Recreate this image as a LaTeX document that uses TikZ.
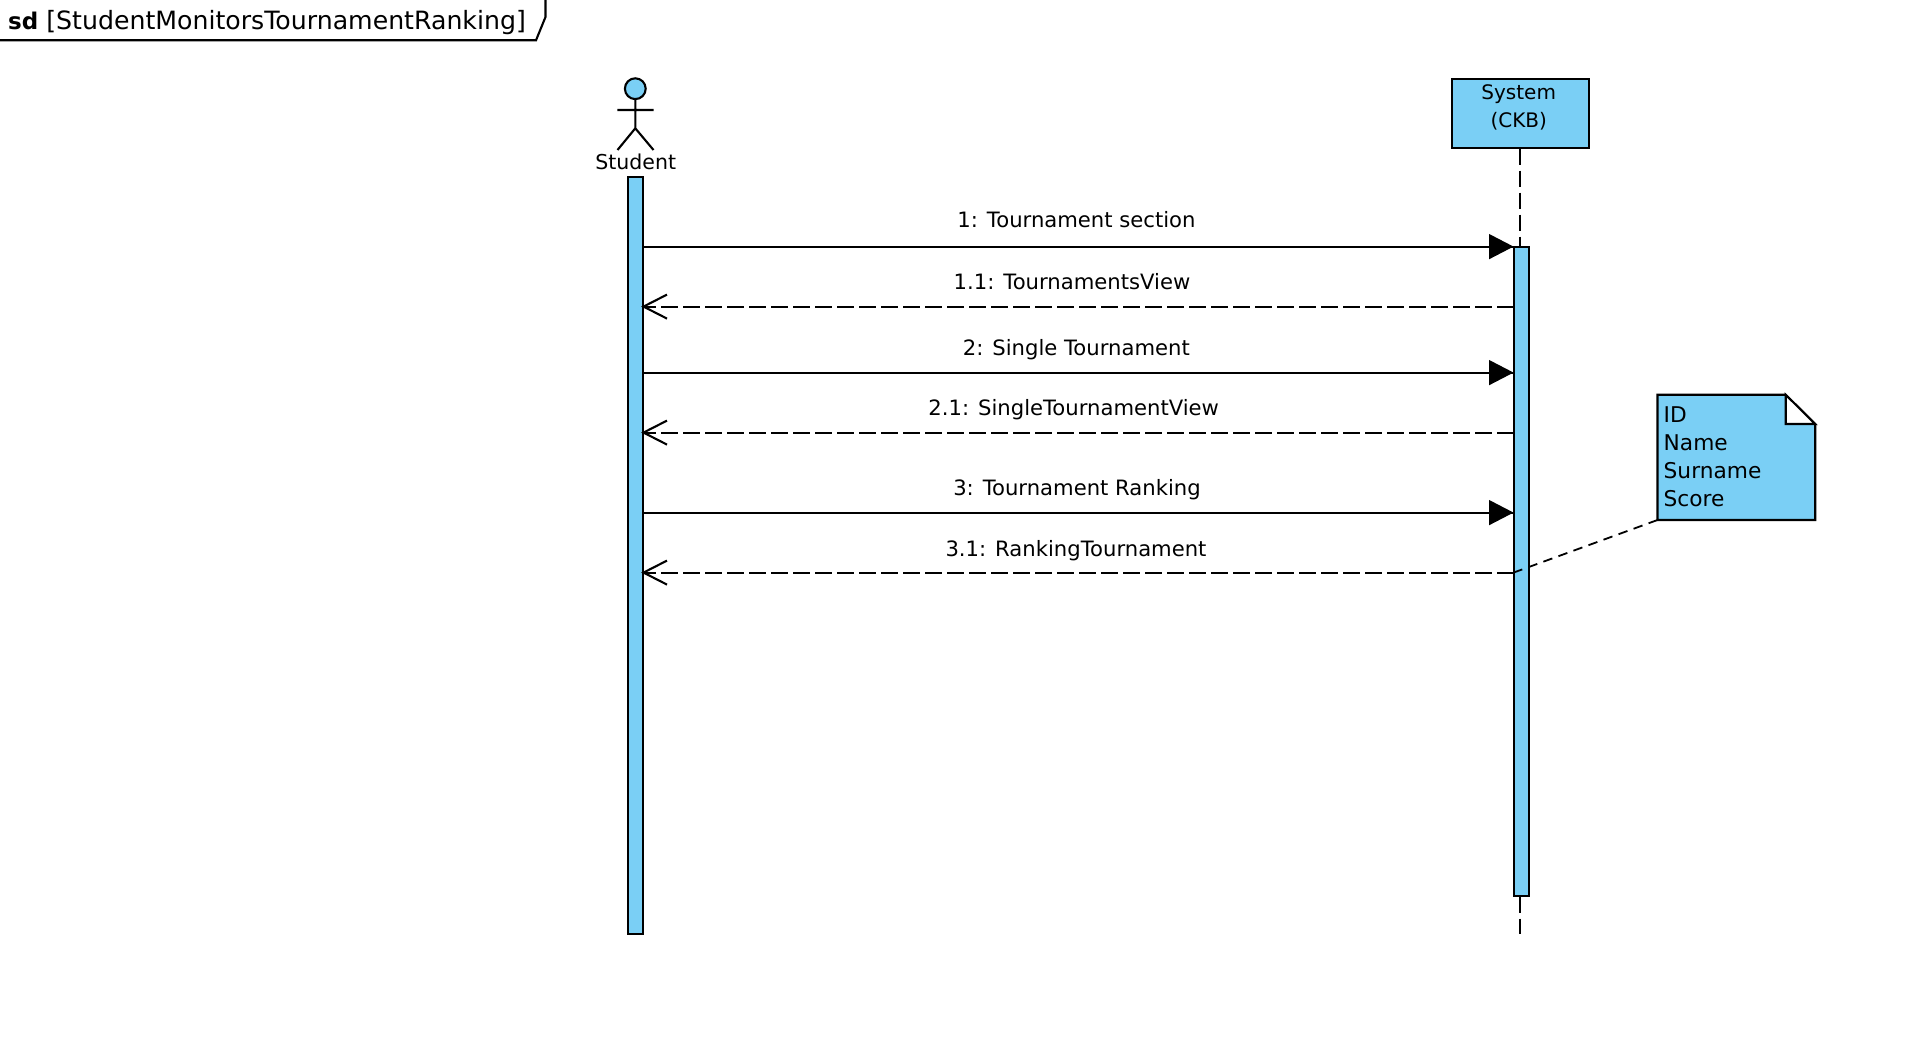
\documentclass[tikz,border=0pt]{standalone}
\usepackage{fontspec}
\setmainfont{DejaVu Sans}
\definecolor{umlblue}{HTML}{7ACFF5}
\tikzset{
  x=1pt,y=-1pt,
  stroke/.style={draw=black,line width=2.1pt},
  bar/.style={stroke,fill=umlblue},
  lifeline/.style={stroke,dash pattern=on 16pt off 6pt},
  reply/.style={stroke,dash pattern=on 16.5pt off 5.5pt},
  notelink/.style={draw=black,line width=1.8pt,dash pattern=on 9.5pt off 6.5pt},
  msgtxt/.style={inner sep=0pt,anchor=base,font=\fontsize{21.15}{24}\selectfont},
  boxtxt/.style={inner sep=0pt,anchor=base,font=\fontsize{20}{24}\selectfont},
  notetxt/.style={inner sep=0pt,anchor=base west,font=\fontsize{21.7}{24}\selectfont},
  pin/.style={inner sep=0pt,minimum size=0pt,outer sep=0pt},
}
\begin{document}
\begin{tikzpicture}
\useasboundingbox (0,0) rectangle (1923,1048);
% frame
\draw[stroke] (-2,40.3) -- (536,40.3) -- (545.5,17) -- (545.5,-2);
\node[inner sep=0pt,anchor=base west,font=\fontsize{25.2}{27}\selectfont] (frametitle) at (8,30) {{\fontsize{23}{27}\selectfont\textbf{sd}} [StudentMonitorsTournamentRanking]};
% actor
\node[stroke,fill=umlblue,circle,minimum size=20.8pt,inner sep=0pt] (head) at (635.3,88.7) {};
\coordinate (hip) at (635.3,128.3);
\coordinate (armL) at (617.4,110);
\coordinate (armR) at (653.6,110);
\coordinate (footL) at (617.5,150);
\coordinate (footR) at (653.5,150);
\draw[stroke] (head.south) -- (hip) -- (footL) (hip) -- (footR) (armL) -- (armR);
\node[boxtxt,font=\fontsize{20.5}{24}\selectfont] (student) at (635.7,170) {Student};
% system
\node[bar,pin,minimum width=137.5pt,minimum height=69pt] (system) at (1520.3,113.4) {};
\node[boxtxt] (systxt1) at (1518.7,100) {System};
\node[boxtxt] (systxt2) at (1518.7,128) {(CKB)};
% lifeline
\coordinate (lifeEnd) at (1519.6,934.3);
\coordinate (lifeTop) at (1519.6,148.7);
\draw[lifeline] (lifeTop) -- (lifeEnd);
% activations
\node[bar,pin,minimum width=15pt,minimum height=756.5pt] (barS) at (635.5,555.6) {};
\node[bar,pin,minimum width=15pt,minimum height=649.4pt] (barC) at (1521.7,571.5) {};
% anchors on the bars
\foreach \n/\y in {a/246.6,b/306.6,c/372.6,d/432.6,e/512.6,f/572.6}{
  \coordinate (l\n) at (643.5,\y);
  \coordinate (r\n) at (1513.5,\y);
}
% messages
\foreach \n in {a,c,e}{
  \draw[stroke] (l\n) -- (r\n);
  \fill[black] (r\n) -- ++(-24.5,-12.7) -- ++(0,25.4) -- cycle;
}
\foreach \n in {b,d,f}{
  \draw[reply] (r\n) -- (l\n);
  \draw[stroke] ([shift={(23.5,-12)}]l\n) -- (l\n) -- ([shift={(23.5,12)}]l\n);
}
\node[msgtxt] (m1) at (1076.5,228) {1: Tournament section};
\node[msgtxt] (m2) at (1072,290) {1.1: TournamentsView};
\node[msgtxt] (m3) at (1076.3,356) {2: Single Tournament};
\node[msgtxt] (m4) at (1073.7,416) {2.1: SingleTournamentView};
\node[msgtxt] (m5) at (1077,496) {3: Tournament Ranking};
\node[msgtxt] (m6) at (1076,556) {3.1: RankingTournament};
% note
\coordinate (nTL) at (1657.5,394.8);
\coordinate (nBL) at (1657.5,520);
\coordinate (nBR) at (1815.2,520);
\coordinate (nFR) at (1815.2,424);
\coordinate (nFT) at (1785.7,394.8);
\coordinate (nFC) at (1785.7,424);
\draw[stroke,fill=umlblue] (nTL) -- (nFT) -- (nFR) -- (nBR) -- (nBL) -- cycle;
\draw[stroke,fill=white] (nFT) -- (nFC) -- (nFR) -- cycle;
\node[notetxt] (n1) at (1663.5,422.3) {ID};
\node[notetxt] (n2) at (1663.5,450.3) {Name};
\node[notetxt] (n3) at (1663.5,478.3) {Surname};
\node[notetxt] (n4) at (1663.5,506.3) {Score};
\draw[notelink] (nBL) -- (rf);
\end{tikzpicture}
\end{document}
